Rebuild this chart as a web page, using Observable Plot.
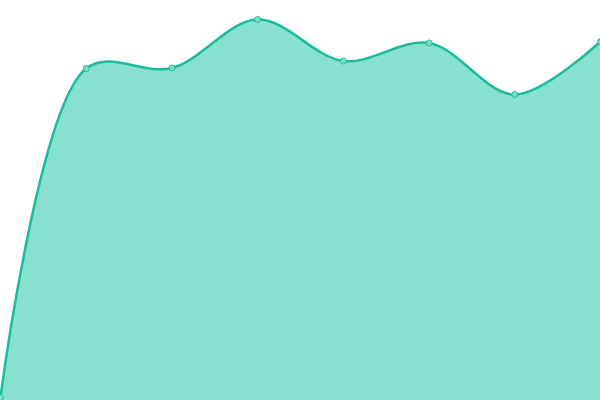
<!DOCTYPE html>
<html>
<head>
<meta charset="utf-8">
<script src="https://cdn.jsdelivr.net/npm/d3@7"></script>
<script src="https://cdn.jsdelivr.net/npm/@observablehq/plot@0.6"></script>
<style>
html, body { margin: 0; padding: 0; background: #fff; }
</style>
</head>
<body>
<div id="chart"></div>
<script>
const categories = [0, 1, 2, 3, 4, 5, 6, 7];
const values = [3, 332, 332.5, 381, 339.5, 357.5, 306, 359];

const data = categories.map((c, i) => ({ x: c, y: values[i] }));

const chart = Plot.plot({
  width: 600,
  height: 400,
  margin: 0,
  x: { domain: [0, 7], axis: null },
  y: { domain: [0, 400], axis: null },
  marks: [
    Plot.areaY(data, { x: "x", y: "y", curve: "catmull-rom", fill: "#88e0cf" }),
    Plot.lineY(data, { x: "x", y: "y", curve: "catmull-rom", stroke: "#1abc9c", strokeWidth: 2.5 }),
    Plot.dot(data, { x: "x", y: "y", r: 3, fill: "#7fdcc8", stroke: "#1abc9c", strokeWidth: 1 })
  ]
});
document.getElementById("chart").appendChild(chart);
</script>
</body>
</html>
